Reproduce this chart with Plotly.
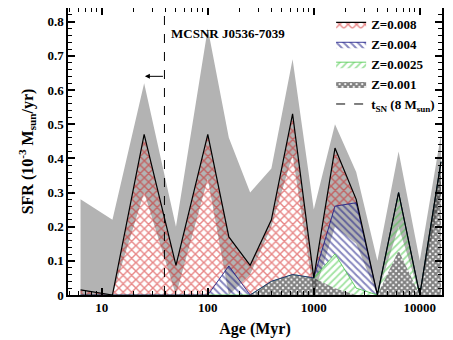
import numpy as np
import plotly.graph_objects as go

# age bins (Myr) and SFR per metallicity (10^-3 Msun/yr)
ages = [6.3, 12.6, 25.1, 50.1, 100, 158, 251, 398, 631, 1000, 1585, 2512, 3981, 6310, 10000, 15849]
z001 = [0, 0, 0, 0, 0, 0, 0, 0.04, 0.06, 0.05, 0.02, 0, 0, 0.13, 0, 0.39]
z0025 = [0, 0, 0, 0, 0, 0, 0, 0, 0, 0, 0.10, 0.02, 0, 0.17, 0, 0]
z004 = [0, 0, 0, 0, 0, 0.085, 0, 0, 0, 0, 0.14, 0.25, 0, 0, 0, 0]
z008 = [0.015, 0, 0.47, 0.087, 0.47, 0.085, 0.087, 0.18, 0.47, 0, 0.17, 0.01, 0, 0, 0, 0]

# total SFR error band
sfr_hi = [0.28, 0.22, 0.62, 0.20, 0.78, 0.46, 0.30, 0.37, 0.69, 0.25, 0.50, 0.36, 0.10, 0.42, 0.10, 0.47]
sfr_lo = [0, 0, 0.30, 0, 0.34, 0, 0.06, 0.20, 0.41, 0, 0.20, 0.15, 0, 0.20, 0, 0.30]

t_sn = 39
ymax = 0.84
font = "Liberation Serif"

fig = go.Figure()

fig.add_trace(go.Scatter(x=ages + ages[::-1], y=sfr_hi + sfr_lo[::-1], fill="toself",
                         fillcolor="#b3b3b3", line=dict(width=0), showlegend=False, hoverinfo="skip"))

series = [
    ("Z=0.001", z001, "black", "x", 4, 0.75, 0, 4),
    ("Z=0.0025", z0025, "#45c845", "/", 5, 0.35, 0.8, 3),
    ("Z=0.004", z004, "#101080", "\\", 5, 0.4, 0.8, 2),
    ("Z=0.008", z008, "#d01010", "x", 6, 0.42, 1.2, 1),
]
for name, vals, col, shape, size, sol, lw, rank in series:
    lcol = "black" if name == "Z=0.008" else col
    fig.add_trace(go.Scatter(
        x=ages, y=vals, name=name, stackgroup="z", mode="lines",
        line=dict(color=lcol, width=lw),
        fillcolor="rgba(0,0,0,0)",
        fillpattern=dict(shape=shape, fgcolor=col, bgcolor="rgba(0,0,0,0)", size=size, solidity=sol),
        legendrank=rank,
    ))

fig.add_trace(go.Scatter(x=[t_sn, t_sn], y=[0, ymax], mode="lines", name="t<sub>SN</sub> (8 M<sub>sun</sub>)",
                         line=dict(color="black", width=1, dash="dash"), legendrank=5))

fig.add_annotation(x=np.log10(25.5), y=0.64, ax=np.log10(t_sn), ay=0.64, xref="x", yref="y",
                   axref="x", ayref="y", text="", showarrow=True, arrowhead=2, arrowsize=1,
                   arrowwidth=1, arrowcolor="black")
fig.add_annotation(x=np.log10(43), y=0.765, xref="x", yref="y", text="MCSNR J0536-7039",
                   showarrow=False, xanchor="left", font=dict(size=13, color="black"))

minor_x = [m * 10 ** e for e in range(0, 5) for m in range(2, 10) if 5 <= m * 10 ** e <= 16000]

fig.update_xaxes(type="log", range=[np.log10(4.8), np.log10(16200)], automargin=False,
                 tickvals=[10, 100, 1000, 10000], ticktext=["10", "100", "1000", "10000"],
                 ticks="inside", ticklen=7, tickwidth=1.5, tickcolor="black",
                 minor=dict(tickvals=minor_x, ticks="inside", ticklen=4, tickcolor="black", tickwidth=1),
                 showline=True, linecolor="black", linewidth=1.5, mirror="ticks",
                 showgrid=False, zeroline=False,
                 title=dict(text="Age (Myr)", standoff=8))
fig.update_yaxes(range=[0, ymax], automargin=False,
                 tickvals=[0, 0.1, 0.2, 0.3, 0.4, 0.5, 0.6, 0.7, 0.8],
                 ticktext=["0", "0.1", "0.2", "0.3", "0.4", "0.5", "0.6", "0.7", "0.8"],
                 ticks="inside", ticklen=7, tickwidth=1.5, tickcolor="black",
                 minor=dict(dtick=0.02, ticks="inside", ticklen=4, tickcolor="black", tickwidth=1),
                 showline=True, linecolor="black", linewidth=1.5, mirror="ticks",
                 showgrid=False, zeroline=False,
                 title=dict(text="SFR (10<sup>-3</sup> M<sub>sun</sub>/yr)", standoff=10))

# page body adds an 8px offset, so the figure is sized to fit the window
fig.update_layout(
    width=445, height=332,
    margin=dict(l=60, r=11, t=0, b=45),
    paper_bgcolor="white", plot_bgcolor="white",
    font=dict(family=font, size=13, color="black", weight="bold"),
    legend=dict(x=0.995, y=0.995, xanchor="right", yanchor="top", bgcolor="rgba(0,0,0,0)",
                font=dict(size=13), itemwidth=30, tracegroupgap=0, traceorder="normal"),
    showlegend=True,
)

fig.write_html("out.html")
